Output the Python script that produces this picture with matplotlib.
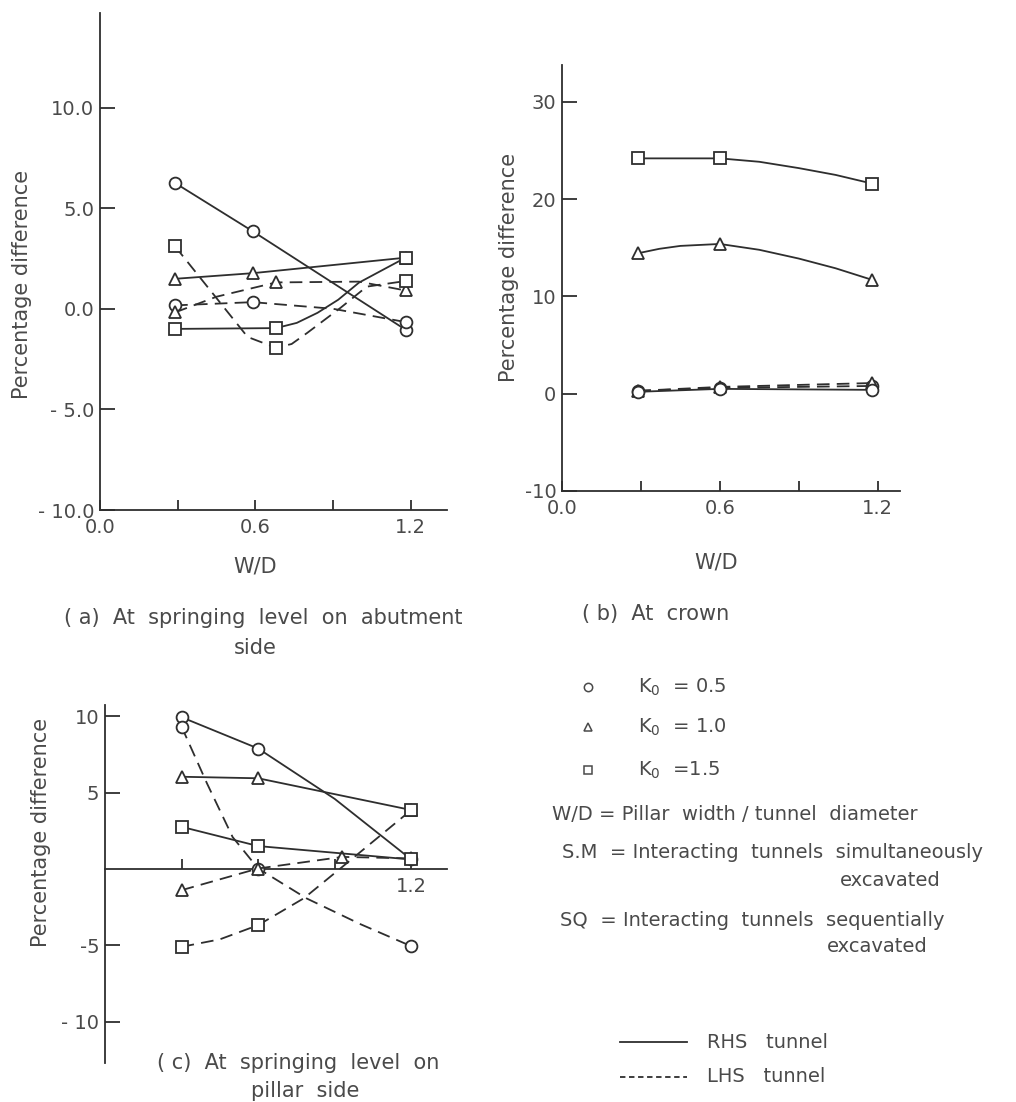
import matplotlib.pyplot as plt
from matplotlib.lines import Line2D

plt.rcParams['font.family'] = ['DejaVu Sans']

# --- (a) springing level on abutment side ---
a_k05_rhs_x = [0.29, 0.59, 1.18]
a_k05_rhs_y = [6.25, 3.85, -1.04]
a_k05_lhs_x = [0.29, 0.59, 0.9, 1.18]
a_k05_lhs_y = [0.17, 0.33, 0.0, -0.66]
a_k10_rhs_x = [0.29, 0.59, 1.18]
a_k10_rhs_y = [1.49, 1.77, 2.54]
a_k10_lhs_x = [0.29, 0.45, 0.68, 1.0, 1.18]
a_k10_lhs_y = [-0.18, 0.6, 1.31, 1.35, 0.91]
a_k15_rhs_x = [0.29, 0.68, 0.76, 0.84, 0.92, 1.0, 1.18]
a_k15_rhs_y = [-1.0, -0.96, -0.7, -0.2, 0.45, 1.3, 2.54]
a_k15_lhs_x = [0.29, 0.57, 0.68, 0.74, 0.8, 0.93, 1.03, 1.18]
a_k15_lhs_y = [3.1, -1.4, -1.94, -1.75, -1.2, 0.06, 1.1, 1.38]

# --- (b) crown ---
b_k15_rhs_x = [0.29, 0.6, 0.75, 0.9, 1.04, 1.18]
b_k15_rhs_y = [24.2, 24.2, 23.85, 23.2, 22.5, 21.6]
b_k10_rhs_x = [0.29, 0.37, 0.45, 0.6, 0.75, 0.9, 1.04, 1.18]
b_k10_rhs_y = [14.45, 14.9, 15.2, 15.4, 14.8, 13.9, 12.9, 11.7]
b_k05_rhs_x = [0.29, 0.6, 1.18]
b_k05_rhs_y = [0.2, 0.5, 0.4]
b_k05_lhs_x = [0.29, 0.6, 1.18]
b_k05_lhs_y = [0.3, 0.6, 0.8]
b_k10_lhs_x = [0.29, 0.6, 1.18]
b_k10_lhs_y = [0.3, 0.7, 1.1]

# --- (c) springing level on pillar side ---
c_k05_rhs_x = [0.3, 0.6, 0.9, 1.2]
c_k05_rhs_y = [9.95, 7.9, 4.6, 0.63]
c_k05_lhs_x = [0.3, 0.4, 0.5, 0.6, 0.79, 1.0, 1.2]
c_k05_lhs_y = [9.33, 5.6, 2.1, 0.04, -1.92, -3.6, -5.05]
c_k10_rhs_x = [0.3, 0.6, 1.2]
c_k10_rhs_y = [6.05, 5.95, 3.87]
c_k10_lhs_x = [0.3, 0.6, 0.93, 1.2]
c_k10_lhs_y = [-1.38, 0.04, 0.8, 0.7]
c_k15_rhs_x = [0.3, 0.6, 1.2]
c_k15_rhs_y = [2.77, 1.51, 0.63]
c_k15_lhs_x = [0.3, 0.45, 0.6, 0.78, 0.93, 1.2]
c_k15_lhs_y = [-5.09, -4.6, -3.67, -1.9, 0.15, 3.87]

ink = '#2e2e2e'
txt = '#4a4a4a'
dash = (0, (7, 4))


def draw(ax, x, y, marker, ls, marks=None):
    if marks is None:
        marks = list(range(len(x)))
    ax.plot(x, y, color=ink, lw=1.3, ls=ls, marker=marker, ms=8.5,
            mfc='white', mec=ink, mew=1.3, markevery=marks, zorder=3)


def style(ax):
    for s in ['top', 'right']:
        ax.spines[s].set_visible(False)
    for s in ['left', 'bottom']:
        ax.spines[s].set_color(ink)
        ax.spines[s].set_linewidth(1.3)
    ax.tick_params(axis='y', direction='in', length=11, width=1.3, color=ink,
                   labelsize=14, labelcolor=txt, pad=4)
    ax.tick_params(axis='x', direction='in', length=7, width=1.3, color=ink,
                   labelsize=14, labelcolor=txt, pad=6)
    ax.patch.set_alpha(0)


fig = plt.figure(figsize=(10.16, 11.02), dpi=100)
W, H = 1016, 1102

# panel (a)
ax1 = fig.add_axes([100 / W, 1 - 510 / H, 347 / W, 497 / H])
draw(ax1, a_k05_rhs_x, a_k05_rhs_y, 'o', '-')
draw(ax1, a_k05_lhs_x, a_k05_lhs_y, 'o', dash, [0, 1, 3])
draw(ax1, a_k10_rhs_x, a_k10_rhs_y, '^', '-')
draw(ax1, a_k10_lhs_x, a_k10_lhs_y, '^', dash, [0, 2, 4])
draw(ax1, a_k15_rhs_x, a_k15_rhs_y, 's', '-', [0, 1, 6])
draw(ax1, a_k15_lhs_x, a_k15_lhs_y, 's', dash, [0, 2, 7])
ax1.set_xlim(0, 1.34)
ax1.set_ylim(-10, 14.7)
ax1.set_yticks([-10, -5, 0, 5, 10])
ax1.set_yticklabels(['- 10.0', '- 5.0', '0.0', '5.0', '10.0'])
ax1.set_xticks([0, 0.3, 0.6, 0.9, 1.2])
ax1.set_xticklabels(['0.0', '', '0.6', '', '1.2'])
style(ax1)

# panel (b)
ax2 = fig.add_axes([562 / W, 1 - 491 / H, 338 / W, 426 / H])
draw(ax2, b_k15_rhs_x, b_k15_rhs_y, 's', '-', [0, 1, 5])
draw(ax2, b_k10_rhs_x, b_k10_rhs_y, '^', '-', [0, 3, 7])
draw(ax2, b_k05_lhs_x, b_k05_lhs_y, 'o', dash)
draw(ax2, b_k10_lhs_x, b_k10_lhs_y, '^', dash)
draw(ax2, b_k05_rhs_x, b_k05_rhs_y, 'o', '-')
ax2.set_xlim(0, 1.285)
ax2.set_ylim(-10, 33.8)
ax2.set_yticks([-10, 0, 10, 20, 30])
ax2.set_yticklabels(['-10', '0', '10', '20', '30'])
ax2.set_xticks([0, 0.3, 0.6, 0.9, 1.2])
ax2.set_xticklabels(['0.0', '', '0.6', '', '1.2'])
style(ax2)

# panel (c)
ax3 = fig.add_axes([105 / W, 1 - 1063 / H, 342 / W, 358 / H])
draw(ax3, c_k05_rhs_x, c_k05_rhs_y, 'o', '-', [0, 1, 3])
draw(ax3, c_k05_lhs_x, c_k05_lhs_y, 'o', dash, [0, 3, 6])
draw(ax3, c_k10_rhs_x, c_k10_rhs_y, '^', '-')
draw(ax3, c_k10_lhs_x, c_k10_lhs_y, '^', dash)
draw(ax3, c_k15_rhs_x, c_k15_rhs_y, 's', '-')
draw(ax3, c_k15_lhs_x, c_k15_lhs_y, 's', dash, [0, 2, 5])
ax3.set_xlim(0, 1.34)
ax3.set_ylim(-12.7, 10.75)
ax3.spines['bottom'].set_position(('data', 0))
ax3.set_yticks([-10, -5, 5, 10])
ax3.set_yticklabels(['- 10', '-5', '5', '10'])
ax3.set_xticks([0.3, 0.6, 0.9, 1.2])
ax3.set_xticklabels(['', '', '', '1.2'])
style(ax3)

# overlay for labels, captions and key (pixel coordinates)
ov = fig.add_axes([0, 0, 1, 1])
ov.set_xlim(0, W)
ov.set_ylim(H, 0)
ov.axis('off')

lab = dict(color=txt, fontsize=15, ha='center', va='center')
ov.text(22, 284, 'Percentage difference', rotation=90, **lab)
ov.text(509, 267, 'Percentage difference', rotation=90, **lab)
ov.text(41, 832, 'Percentage difference', rotation=90, **lab)
ov.text(255, 566, 'W/D', **lab)
ov.text(716, 562, 'W/D', **lab)

ov.text(263, 618, '( a)  At  springing  level  on  abutment', **lab)
ov.text(255, 648, 'side', **lab)
ov.text(582, 614, '( b)  At  crown', color=txt, fontsize=15, ha='left', va='center')
ov.text(298, 1063, '( c)  At  springing  level  on', **lab)
ov.text(305, 1091, 'pillar  side', **lab)

# key
key_marks = ['o', '^', 's']
key_text = ['K$_0$  = 0.5', 'K$_0$  = 1.0', 'K$_0$  =1.5']
key_y = [687, 727, 770]
for m, t, yy in zip(key_marks, key_text, key_y):
    ov.plot([588], [yy], marker=m, ms=6, mfc='white', mec=txt, mew=1.1, ls='none')
    ov.text(638, yy, t, color=txt, fontsize=14, ha='left', va='center')

note = dict(color=txt, fontsize=14, ha='left', va='center')
ov.text(552, 815, 'W/D = Pillar  width / tunnel  diameter', **note)
ov.text(562, 853, 'S.M  = Interacting  tunnels  simultaneously', **note)
ov.text(840, 880, 'excavated', **note)
ov.text(560, 920, 'SQ  = Interacting  tunnels  sequentially', **note)
ov.text(827, 947, 'excavated', **note)

ov.add_line(Line2D([620, 687], [1042, 1042], color=ink, lw=1.3))
ov.add_line(Line2D([620, 687], [1077, 1077], color=ink, lw=1.3, ls=(0, (3, 2))))
ov.text(707, 1042, 'RHS   tunnel', **note)
ov.text(707, 1077, 'LHS   tunnel', **note)

fig.savefig('out.png', dpi=100, facecolor='white')
